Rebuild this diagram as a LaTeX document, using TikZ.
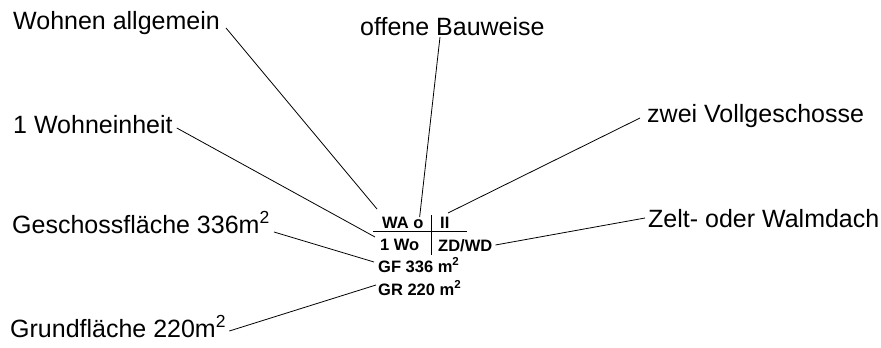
\documentclass[tikz,border=0pt]{standalone}
\usepackage{fontspec}
\setmainfont{Liberation Sans}
\usetikzlibrary{calc}
\begin{document}
\begin{tikzpicture}[x=1pt,y=-1pt,
  biglabel/.style={anchor=base west,inner sep=0pt,font=\fontsize{25}{30}\selectfont},
  keytext/.style={anchor=base west,inner sep=0pt,font=\fontsize{16.5}{20}\selectfont\bfseries},
  leader/.style={line width=0.8pt},
  crossline/.style={line width=1pt}]
\useasboundingbox (0,0) rectangle (881,348);

% explanatory labels around the key
\node[biglabel] (wa)  at (13,29)   {Wohnen allgemein};
\node[biglabel] (ob)  at (360,35)  {offene Bauweise};
\node[biglabel] (zv)  at (647,122) {zwei Vollgeschosse};
\node[biglabel] (we)  at (13,133)  {1 Wohneinheit};
\node[biglabel] (gf)  at (12,233)  {Geschossfläche 336m\textsuperscript{2}};
\node[biglabel] (zw)  at (648,227) {Zelt- oder Walmdach};
\node[biglabel] (gr)  at (10,337)  {Grundfläche 220m\textsuperscript{2}};

% the key (Nutzungsschablone)
\node[keytext] (kwa) at (382,228) {WA o};
\node[keytext] (kii) at (440,228) {II};
\node[keytext] (kwo) at (380,250) {1 Wo};
\node[keytext] (kzd) at (438,251) {ZD/WD};
\node[keytext] (kgf) at (378,272) {GF 336 m\textsuperscript{2}};
\node[keytext] (kgr) at (378,295) {GR 220 m\textsuperscript{2}};

% cross dividing the key
\coordinate (hl) at (373,231);
\coordinate (hr) at (467,231);
\coordinate (vt) at (431,215);
\coordinate (vb) at (431,255);
\draw[crossline] (hl) -- (hr);
\draw[crossline] (vt) -- (vb);

% leader lines
\draw[leader] ($(wa.base east)+(6,-1)$) -- ($(kwa.base west)+(-5,-19)$);
\draw[leader] ($(ob.base west)+(80,2)$) -- ($(kwa.base east)+(-4,-11)$);
\draw[leader] ($(zv.base west)+(-7,-4)$) -- ($(kii.base west)+(8,-15)$);
\draw[leader] ($(we.base east)+(4,-5)$) -- ($(kwo.base west)+(-5,-13)$);
\draw[leader] ($(gf.base east)+(4,-1)$) -- ($(kgf.base west)+(-4,-10)$);
\draw[leader] ($(zw.base west)+(-3,-9)$) -- ($(kzd.base east)+(3,-6)$);
\draw[leader] ($(gr.base east)+(3,-6)$) -- ($(kgr.base west)+(-2,-10)$);
\end{tikzpicture}
\end{document}
